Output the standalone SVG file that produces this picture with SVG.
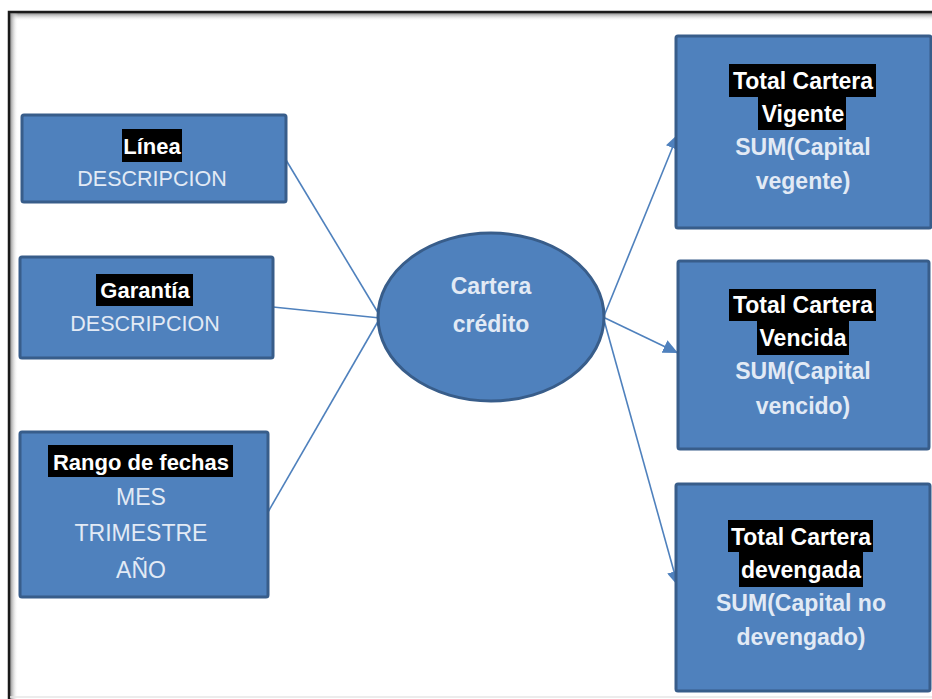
<svg xmlns="http://www.w3.org/2000/svg" width="932" height="699" viewBox="0 0 932 699">
  <defs>
    <style>
      .node { fill: #4f81bd; stroke: #385d8a; stroke-width: 3; }
      .hl { fill: #000000; }
      .title { font-family: "Liberation Sans", Arial, sans-serif; font-weight: bold; fill: #ffffff; text-anchor: middle; }
      .sub { font-family: "Liberation Sans", Arial, sans-serif; fill: #e2eaf5; text-anchor: middle; }
      .subb { font-family: "Liberation Sans", Arial, sans-serif; font-weight: bold; fill: #e2eaf5; text-anchor: middle; }
      .link { fill: none; stroke: #4f81bd; stroke-width: 1.6; }
    </style>
    <marker id="arrow" markerUnits="userSpaceOnUse" markerWidth="16" markerHeight="14" refX="15" refY="7" orient="auto">
      <path d="M0,0 L15,7 L0,14 Z" fill="#4f81bd"/>
    </marker>
    <linearGradient id="shadeTop" x1="0" y1="0" x2="0" y2="1">
      <stop offset="0" stop-color="#8a8a8a"/>
      <stop offset="1" stop-color="#ffffff" stop-opacity="0"/>
    </linearGradient>
    <linearGradient id="shadeLeft" x1="0" y1="0" x2="1" y2="0">
      <stop offset="0" stop-color="#8a8a8a"/>
      <stop offset="1" stop-color="#ffffff" stop-opacity="0"/>
    </linearGradient>
  </defs>

  <!-- page and frame -->
  <rect x="0" y="0" width="932" height="699" fill="#ffffff"/>
  <rect x="10" y="13" width="922" height="8" fill="url(#shadeTop)"/>
  <rect x="10" y="13" width="8" height="686" fill="url(#shadeLeft)"/>
  <path d="M9,699 V12 H932" fill="none" stroke="#1a1a1a" stroke-width="2.5"/>
  <line x1="10" y1="697" x2="932" y2="697" stroke="#e6e6e6" stroke-width="1.5"/>

  <!-- connectors -->
  <g id="connectors">
    <line class="link" x1="286" y1="160" x2="380" y2="316"/>
    <line class="link" x1="273" y1="307" x2="380" y2="318"/>
    <line class="link" x1="268" y1="512" x2="380" y2="318"/>
    <line class="link" x1="604" y1="316" x2="678" y2="134" marker-end="url(#arrow)"/>
    <line class="link" x1="605" y1="318" x2="678" y2="353" marker-end="url(#arrow)"/>
    <line class="link" x1="604" y1="320" x2="678" y2="586" marker-end="url(#arrow)"/>
  </g>

  <!-- left nodes -->
  <g id="linea">
    <rect class="node" x="22" y="115" width="264" height="87" rx="2"/>
    <rect class="hl" x="122" y="129" width="60" height="33"/>
    <text class="title" x="152" y="154" font-size="22">Línea</text>
    <text class="sub" x="152" y="186" font-size="21.5">DESCRIPCION</text>
  </g>

  <g id="garantia">
    <rect class="node" x="20" y="257" width="253" height="101" rx="2"/>
    <rect class="hl" x="96" y="274" width="97" height="32"/>
    <text class="title" x="145" y="298" font-size="22">Garantía</text>
    <text class="sub" x="145" y="331" font-size="21.5">DESCRIPCION</text>
  </g>

  <g id="rango">
    <rect class="node" x="20" y="432" width="248" height="165" rx="2"/>
    <rect class="hl" x="48" y="445" width="185" height="32"/>
    <text class="title" x="141" y="470" font-size="22">Rango de fechas</text>
    <text class="sub" x="141" y="505" font-size="23">MES</text>
    <text class="sub" x="141" y="541" font-size="23">TRIMESTRE</text>
    <text class="sub" x="141" y="578" font-size="23">AÑO</text>
  </g>

  <!-- centre node -->
  <g id="cartera">
    <ellipse class="node" cx="491" cy="317" rx="113" ry="84"/>
    <text class="subb" x="491" y="294" font-size="23">Cartera</text>
    <text class="subb" x="491" y="332" font-size="23">crédito</text>
  </g>

  <!-- right nodes -->
  <g id="vigente">
    <rect class="node" x="676" y="36" width="255" height="192" rx="2"/>
    <rect class="hl" x="729" y="64" width="147" height="33"/>
    <rect class="hl" x="758" y="97" width="88" height="33"/>
    <text class="title" x="803" y="89" font-size="23">Total Cartera</text>
    <text class="title" x="803" y="122" font-size="23">Vigente</text>
    <text class="subb" x="803" y="155" font-size="23">SUM(Capital</text>
    <text class="subb" x="803" y="189" font-size="23">vegente)</text>
  </g>

  <g id="vencida">
    <rect class="node" x="678" y="261" width="251" height="188" rx="2"/>
    <rect class="hl" x="729" y="289" width="147" height="32"/>
    <rect class="hl" x="757" y="321" width="92" height="34"/>
    <text class="title" x="803" y="313" font-size="23">Total Cartera</text>
    <text class="title" x="803" y="346" font-size="23">Vencida</text>
    <text class="subb" x="803" y="379" font-size="23">SUM(Capital</text>
    <text class="subb" x="803" y="414" font-size="23">vencido)</text>
  </g>

  <g id="devengada">
    <rect class="node" x="676" y="484" width="254" height="207" rx="2"/>
    <rect class="hl" x="728" y="520" width="145" height="32"/>
    <rect class="hl" x="739" y="552" width="124" height="35"/>
    <text class="title" x="801" y="545" font-size="23">Total Cartera</text>
    <text class="title" x="801" y="578" font-size="23">devengada</text>
    <text class="subb" x="801" y="611" font-size="23">SUM(Capital no</text>
    <text class="subb" x="801" y="645" font-size="23">devengado)</text>
  </g>
</svg>
